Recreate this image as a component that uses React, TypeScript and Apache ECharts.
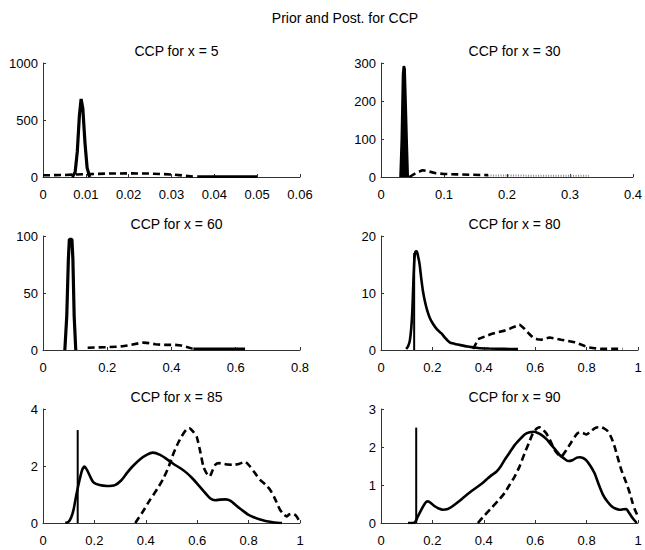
import React, { useEffect, useRef } from "react";
import * as echarts from "echarts";

// ---------- data ----------
const mainTitle = "Prior and Post. for CCP";
const panelTitles = ["CCP for x = 5", "CCP for x = 30", "CCP for x = 60", "CCP for x = 80", "CCP for x = 85", "CCP for x = 90"];
const xMax = [0.06, 0.4, 0.8, 1, 1, 1];
const xStep = [0.01, 0.1, 0.2, 0.2, 0.2, 0.2];
const yMax = [1000, 300, 100, 20, 4, 3];
const yStep = [500, 100, 50, 10, 2, 1];

// Panel 1 (x = 5)
const p1Post = [[0.0068, 0], [0.0075, 40], [0.008, 220], [0.0085, 540], [0.0089, 685], [0.0093, 600], [0.0098, 300], [0.0103, 80], [0.0109, 0]];
const p1Prior = [[0, 15], [0.005, 18], [0.01, 25], [0.015, 30], [0.02, 32], [0.025, 30], [0.03, 22], [0.033, 12], [0.035, 4]];
const p1Tail = [[0.036, 3], [0.05, 3]];

// Panel 2 (x = 30)
const p2Post = [[0.031, 0], [0.033, 100], [0.035, 270], [0.0362, 292], [0.0375, 285], [0.039, 200], [0.041, 80], [0.0425, 0]];
const p2Prior = [[0.045, 0], [0.055, 10], [0.066, 18], [0.075, 15], [0.087, 10], [0.1, 8], [0.12, 7], [0.14, 6], [0.17, 5]];
const p2Tail = [[0.17, 4], [0.25, 3.5], [0.33, 3]];

// Panel 3 (x = 60)
const p3Post = [[0.068, 0], [0.074, 30], [0.079, 80], [0.082, 97], [0.09, 97], [0.093, 80], [0.097, 30], [0.102, 0]];
const p3Prior = [[0.139, 2], [0.17, 2.3], [0.2, 2.5], [0.24, 3], [0.27, 4.2], [0.3, 6], [0.313, 6.5], [0.33, 6], [0.35, 5], [0.38, 4.5], [0.41, 4.5], [0.43, 4], [0.45, 2.5], [0.465, 1.2], [0.47, 1]];
const p3Tail = [[0.468, 1], [0.629, 1]];

// Panel 4 (x = 80)
const p4Post = [[0.098, 0.17], [0.105, 0.6], [0.112, 1.6], [0.118, 4], [0.122, 6.9], [0.126, 12], [0.13, 16], [0.134, 17.2], [0.139, 17.3], [0.144, 16.5], [0.15, 15.1], [0.156, 12.8], [0.163, 10.4], [0.171, 8.5], [0.18, 6.9], [0.19, 5.6], [0.202, 4.6], [0.218, 3.6], [0.235, 2.9], [0.25, 2.1], [0.267, 1.35], [0.285, 1.1], [0.305, 0.9], [0.337, 0.6], [0.377, 0.35], [0.42, 0.25], [0.48, 0.2], [0.533, 0.15]];
const p4Mark = [[0.129, 0], [0.129, 17]];
const p4Prior = [[0.358, 0.2], [0.368, 1.0], [0.377, 1.9], [0.4, 2.3], [0.429, 2.8], [0.455, 3.1], [0.481, 3.4], [0.5, 3.7], [0.514, 4.0], [0.54, 4.45], [0.559, 3.7], [0.575, 2.9], [0.591, 2.2], [0.608, 1.9], [0.624, 1.8], [0.64, 2.0], [0.656, 2.2], [0.68, 2.0], [0.701, 1.8], [0.725, 1.6], [0.753, 1.35], [0.775, 1.0], [0.793, 0.7], [0.81, 0.45], [0.831, 0.3], [0.86, 0.2], [0.896, 0.2], [0.94, 0.2]];

// Panel 5 (x = 85)
const p5Post = [[0.087, 0], [0.1, 0.05], [0.11, 0.2], [0.119, 0.47], [0.13, 1.0], [0.142, 1.5], [0.152, 1.85], [0.161, 1.98], [0.172, 1.85], [0.185, 1.6], [0.197, 1.42], [0.22, 1.33], [0.249, 1.3], [0.28, 1.33], [0.305, 1.5], [0.326, 1.75], [0.35, 2.0], [0.378, 2.24], [0.405, 2.4], [0.427, 2.47], [0.456, 2.39], [0.48, 2.25], [0.508, 2.07], [0.535, 1.92], [0.56, 1.75], [0.58, 1.58], [0.598, 1.4], [0.625, 1.12], [0.65, 0.87], [0.67, 0.8], [0.689, 0.82], [0.71, 0.83], [0.73, 0.78], [0.754, 0.6], [0.775, 0.45], [0.799, 0.29], [0.82, 0.2], [0.845, 0.12], [0.87, 0.06], [0.9, 0.02], [0.93, 0]];
const p5Mark = [[0.135, 0], [0.135, 3.26]];
const p5Prior = [[0.359, 0], [0.385, 0.35], [0.417, 0.82], [0.445, 1.2], [0.469, 1.57], [0.49, 2.0], [0.508, 2.45], [0.528, 2.85], [0.547, 3.15], [0.56, 3.3], [0.57, 3.32], [0.585, 3.2], [0.598, 3.03], [0.612, 2.5], [0.624, 1.98], [0.636, 1.75], [0.648, 1.63], [0.66, 1.85], [0.67, 2.04], [0.685, 2.1], [0.7, 2.08], [0.72, 2.05], [0.741, 2.04], [0.765, 2.08], [0.786, 2.15], [0.806, 1.98], [0.825, 1.75], [0.845, 1.51], [0.865, 1.35], [0.884, 1.16], [0.9, 0.9], [0.922, 0.47], [0.935, 0.32], [0.948, 0.23], [0.958, 0.3], [0.968, 0.33], [0.978, 0.3], [0.987, 0.23], [0.995, 0.1], [1.0, 0]];

// Panel 6 (x = 90)
const p6Post = [[0.105, 0], [0.128, 0], [0.135, 0.05], [0.142, 0.15], [0.15, 0.26], [0.165, 0.45], [0.175, 0.55], [0.183, 0.57], [0.195, 0.52], [0.209, 0.44], [0.225, 0.38], [0.241, 0.35], [0.26, 0.37], [0.274, 0.42], [0.3, 0.55], [0.326, 0.7], [0.35, 0.83], [0.377, 0.96], [0.4, 1.08], [0.416, 1.18], [0.435, 1.28], [0.449, 1.35], [0.465, 1.48], [0.481, 1.66], [0.5, 1.85], [0.52, 2.05], [0.54, 2.2], [0.559, 2.33], [0.575, 2.38], [0.595, 2.4], [0.61, 2.37], [0.624, 2.32], [0.645, 2.2], [0.663, 2.05], [0.68, 1.92], [0.695, 1.79], [0.712, 1.7], [0.728, 1.63], [0.747, 1.66], [0.762, 1.72], [0.773, 1.73], [0.786, 1.71], [0.799, 1.65], [0.815, 1.5], [0.831, 1.31], [0.848, 1.0], [0.864, 0.74], [0.88, 0.57], [0.896, 0.45], [0.912, 0.38], [0.929, 0.35], [0.942, 0.36], [0.954, 0.37], [0.964, 0.28], [0.974, 0.18], [0.985, 0.08], [0.995, 0]];
const p6Mark = [[0.137, 0], [0.137, 2.51]];
const p6Prior = [[0.377, 0], [0.4, 0.18], [0.429, 0.39], [0.455, 0.58], [0.481, 0.79], [0.5, 1.0], [0.52, 1.22], [0.54, 1.5], [0.559, 1.84], [0.575, 2.1], [0.591, 2.36], [0.605, 2.48], [0.617, 2.52], [0.63, 2.46], [0.643, 2.36], [0.66, 2.15], [0.676, 1.92], [0.69, 1.8], [0.701, 1.75], [0.711, 1.82], [0.721, 1.92], [0.738, 2.1], [0.754, 2.27], [0.765, 2.36], [0.773, 2.39], [0.786, 2.37], [0.799, 2.33], [0.815, 2.4], [0.831, 2.49], [0.845, 2.52], [0.857, 2.52], [0.87, 2.48], [0.883, 2.41], [0.896, 2.25], [0.909, 2.01], [0.922, 1.7], [0.935, 1.4], [0.952, 1.1], [0.968, 0.79], [0.978, 0.55], [0.987, 0.37], [0.998, 0.2]];

// ---------- layout ----------
const FONT = "'Liberation Sans', Arial, Helvetica, sans-serif";
const gridLefts = [43, 381];
const gridTops = [63, 236, 409];
const gridW = 257;
const gridH = 114;

function fmt(v: number) {
  return String(parseFloat(v.toFixed(4)));
}

export default function App() {
  const ref = useRef<HTMLDivElement>(null);
  useEffect(() => {
    if (!ref.current) return;
    const chart = echarts.init(ref.current, undefined, { renderer: "svg" });

    const grids: any[] = [];
    const xAxes: any[] = [];
    const yAxes: any[] = [];
    const titles: any[] = [
      {
        text: mainTitle,
        left: 340,
        top: 6,
        textAlign: "center",
        textStyle: { fontFamily: FONT, fontSize: 14, fontWeight: "normal", color: "#000" },
      },
    ];
    for (let i = 0; i < 6; i++) {
      const left = gridLefts[i % 2];
      const top = gridTops[Math.floor(i / 2)];
      grids.push({ left, top, width: gridW, height: gridH, containLabel: false });
      xAxes.push({
        type: "value",
        gridIndex: i,
        min: 0,
        max: xMax[i],
        interval: xStep[i],
        splitLine: { show: false },
        axisLine: { show: true, onZero: false, lineStyle: { color: "#333", width: 1 } },
        axisTick: { show: true, inside: true, length: 3, lineStyle: { color: "#333" } },
        axisLabel: { color: "#000", fontFamily: FONT, fontSize: 13, margin: 11, formatter: fmt },
      });
      yAxes.push({
        type: "value",
        gridIndex: i,
        min: 0,
        max: yMax[i],
        interval: yStep[i],
        splitLine: { show: false },
        axisLine: { show: true, lineStyle: { color: "#333", width: 1 } },
        axisTick: { show: true, inside: true, length: 3, lineStyle: { color: "#333" } },
        axisLabel: { color: "#000", fontFamily: FONT, fontSize: 13, margin: 5, formatter: fmt, padding: [4, 0, 0, 0] },
      });
      titles.push({
        text: panelTitles[i],
        left: left + gridW / 2,
        top: top - 24,
        textAlign: "center",
        textStyle: { fontFamily: FONT, fontSize: 14, fontWeight: "normal", color: "#000" },
      });
    }

    const line = (idx: number, data: number[][], kind: string, extra: any = {}) => {
      const lineStyle: any = { color: "#000", width: 2.6 };
      if (kind === "dash") {
        lineStyle.type = [7, 4];
      } else if (kind === "dot") {
        lineStyle.type = [1, 1.5];
        lineStyle.color = "#888";
        lineStyle.width = 2;
      } else if (kind === "mark") {
        lineStyle.width = 2;
      }
      return {
        type: "line",
        xAxisIndex: idx,
        yAxisIndex: idx,
        data,
        showSymbol: false,
        symbol: "none",
        lineStyle,
        z: kind === "dash" ? 2 : 3,
        ...extra,
      };
    };

    const series = [
      line(0, p1Prior, "dash"),
      line(0, p1Post, "solid", { lineStyle: { color: "#000", width: 3.2 } }),
      line(0, p1Tail, "solid"),
      line(1, p2Prior, "dash"),
      line(1, p2Tail, "dot"),
      line(1, p2Post, "solid", { areaStyle: { color: "#000", opacity: 1 } }),
      line(2, p3Prior, "dash"),
      line(2, p3Post, "solid", { lineStyle: { color: "#000", width: 3.2 } }),
      line(2, p3Tail, "solid"),
      line(3, p4Prior, "dash"),
      line(3, p4Post, "solid", { smooth: 0.2 }),
      line(3, p4Mark, "mark"),
      line(4, p5Prior, "dash", { smooth: 0.2 }),
      line(4, p5Post, "solid", { smooth: 0.2 }),
      line(4, p5Mark, "mark"),
      line(5, p6Prior, "dash", { smooth: 0.2 }),
      line(5, p6Post, "solid", { smooth: 0.2 }),
      line(5, p6Mark, "mark"),
    ];

    chart.setOption({
      animation: false,
      backgroundColor: "#fff",
      title: titles,
      grid: grids,
      xAxis: xAxes,
      yAxis: yAxes,
      series,
    });
    return () => chart.dispose();
  }, []);

  return (
    <div
      ref={ref}
      style={{ position: "absolute", left: 0, top: 0, width: 645, height: 550, background: "#fff" }}
    />
  );
}
